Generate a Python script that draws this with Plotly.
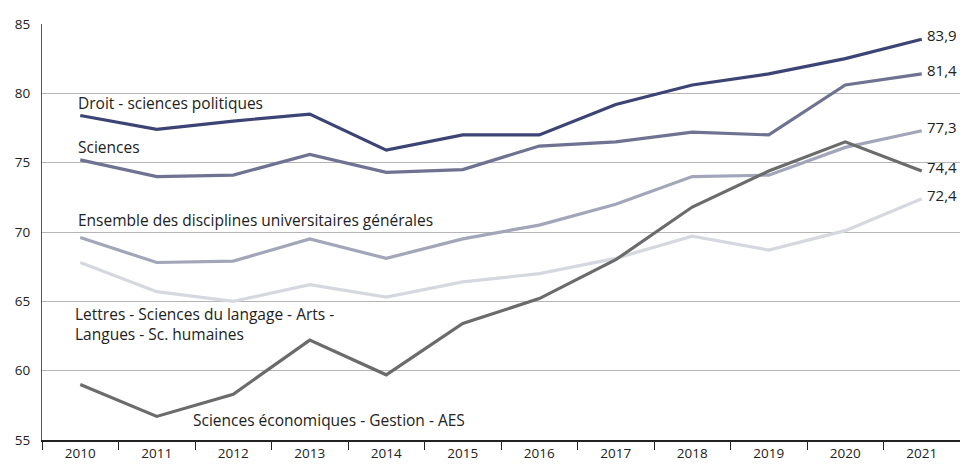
import plotly.graph_objects as go

years = [str(y) for y in range(2010, 2022)]

droit = [78.4, 77.4, 78.0, 78.5, 75.9, 77.0, 77.0, 79.2, 80.6, 81.4, 82.5, 83.9]
sciences = [75.2, 74.0, 74.1, 75.6, 74.3, 74.5, 76.2, 76.5, 77.2, 77.0, 80.6, 81.4]
ensemble = [69.6, 67.8, 67.9, 69.5, 68.1, 69.5, 70.5, 72.0, 74.0, 74.1, 76.1, 77.3]
lettres = [67.8, 65.7, 65.0, 66.2, 65.3, 66.4, 67.0, 68.1, 69.7, 68.7, 70.1, 72.4]
eco = [59.0, 56.7, 58.3, 62.2, 59.7, 63.4, 65.2, 68.0, 71.8, 74.4, 76.5, 74.4]

series = [
    ("Lettres - Sciences du langage - Arts - Langues - Sc. humaines", lettres, "#d6d8df"),
    ("Ensemble des disciplines universitaires générales", ensemble, "#a3a6b9"),
    ("Sciences", sciences, "#6f7391"),
    ("Sciences économiques - Gestion - AES", eco, "#6b6b6b"),
    ("Droit - sciences politiques", droit, "#3c4476"),
]

# labels placed beside the lines: (text, category index, y value)
line_labels = [
    ("Droit - sciences politiques", 0, 79.3),
    ("Sciences", 0, 76.1),
    ("Ensemble des disciplines universitaires générales", 0, 70.9),
    ("Lettres - Sciences du langage - Arts -<br>Langues - Sc. humaines", -0.04, 63.4),
    ("Sciences économiques - Gestion - AES", 1.5, 56.45),
]

font = "Open Sans"
fig = go.Figure()

last = len(years) - 1
for name, vals, color in series:
    fig.add_trace(
        go.Scatter(
            x=years,
            y=vals,
            mode="lines",
            name=name,
            line=dict(color=color, width=3.2),
            hovertemplate="%{x}: %{y}<extra>" + name + "</extra>",
        )
    )
    fig.add_annotation(
        x=last,
        y=vals[-1],
        text=f"{vals[-1]:.1f}".replace(".", ","),
        showarrow=False,
        xanchor="left",
        yanchor="middle",
        xshift=3,
        yshift=4,
        font=dict(family=font, size=15, color="#222"),
    )

for text, xi, yv in line_labels:
    fig.add_annotation(
        x=xi,
        y=yv,
        text=text,
        showarrow=False,
        xanchor="left",
        yanchor="middle",
        align="left",
        xshift=-4,
        font=dict(family=font, size=15.5, color="#222"),
    )

fig.update_layout(
    width=960,
    height=464,
    showlegend=False,
    plot_bgcolor="white",
    paper_bgcolor="white",
    margin=dict(l=42, r=0, t=24, b=24),
    font=dict(family=font, size=13.5, color="#222"),
)

fig.update_xaxes(
    type="category",
    range=[-0.5, 11.5],
    tickson="boundaries",
    ticks="outside",
    ticklen=8,
    tickcolor="#222",
    showline=True,
    linecolor="#222",
    linewidth=1.5,
    showgrid=False,
    tickangle=0,
    tickfont=dict(size=13.5),
)
fig.update_yaxes(
    range=[55, 85],
    dtick=5,
    showgrid=True,
    gridcolor="#b5b5b5",
    gridwidth=1,
    showline=True,
    linecolor="#555",
    linewidth=1.2,
    zeroline=False,
    ticks="",
    tickfont=dict(size=13.5),
    ticklabelstandoff=8,
)

# the page body has an 8px default margin; remove it so the chart fills the window
fig.write_html(
    "out.html",
    config={"displayModeBar": False},
    post_script="document.body.style.margin='0';",
)
